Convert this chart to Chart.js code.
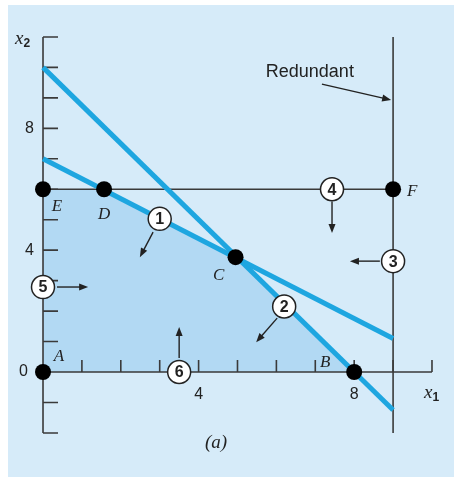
<!DOCTYPE html>
<html>
<head>
<meta charset="utf-8">
<title>Feasible region</title>
<script src="https://cdn.jsdelivr.net/npm/chart.js@4.4.0/dist/chart.umd.min.js"></script>
<style>
  html, body { margin: 0; padding: 0; background: #ffffff; }
  #panel { position: absolute; left: 8px; top: 5px; width: 446px; height: 472px; background: #d6ebf9; }
  canvas { display: block; }
</style>
</head>
<body>
<div id="panel"><canvas id="lpChart"></canvas></div>
<script>
// Corner points of the problem
const vertexNames = ['A', 'B', 'C', 'D', 'E', 'F'];
const vertexX = [0, 8, 4.95, 1.57, 0, 9];
const vertexY = [0, 0, 3.77, 6, 6, 6];

// Constraint lines (two end points each)
const line1X = [0, 9];
const line1Y = [7, 1.1];
const line2X = [0, 9];
const line2Y = [10, -1.25];
const line3X = [9, 9];
const line3Y = [-2, 11];
const line4X = [0, 9];
const line4Y = [6, 6];

// Circled constraint numbers and the side each one keeps
const constraintIds = ['1', '2', '3', '4', '5', '6'];
const constraintX = [3.0, 6.2, 9, 7.43, 0, 3.5];
const constraintY = [5.03, 2.15, 3.64, 6, 2.79, 0];
const arrowFromX = [2.83, 6.02, 8.66, 7.43, 0.36, 3.5];
const arrowFromY = [4.59, 1.77, 3.64, 5.6, 2.79, 0.46];
const arrowToX = [2.49, 5.48, 7.89, 7.43, 1.16, 3.5];
const arrowToY = [3.77, 0.98, 3.64, 4.56, 2.79, 1.48];

// Axes
const xAxisRange = [0, 10];
const yAxisRange = [-2, 11];
const xTickLabels = [4, 8];
const yTickLabels = [0, 4, 8];

const BLUE = '#1ea6e0';
const AXIS = '#3a3a3a';
const SERIF = '"Liberation Serif", "DejaVu Serif", serif';
const SANS = '"Liberation Sans", Arial, sans-serif';

const pts = (xs, ys) => xs.map((v, i) => ({ x: v, y: ys[i] }));
const byName = n => vertexNames.indexOf(n);

// Feasible region outline E-D-C-B, filled down to x2 = 0
const regionOrder = ['E', 'D', 'C', 'B'];
const regionPts = regionOrder.map(n => ({ x: vertexX[byName(n)], y: vertexY[byName(n)] }));

function arrow(ctx, x1, y1, x2, y2) {
    const a = Math.atan2(y2 - y1, x2 - x1);
    const head = 9, half = 3.5;
    ctx.beginPath();
    ctx.moveTo(x1, y1);
    ctx.lineTo(x2 - Math.cos(a) * head * 0.8, y2 - Math.sin(a) * head * 0.8);
    ctx.stroke();
    ctx.beginPath();
    ctx.moveTo(x2, y2);
    ctx.lineTo(x2 - Math.cos(a) * head + Math.sin(a) * half, y2 - Math.sin(a) * head - Math.cos(a) * half);
    ctx.lineTo(x2 - Math.cos(a) * head - Math.sin(a) * half, y2 - Math.sin(a) * head + Math.cos(a) * half);
    ctx.closePath();
    ctx.fill();
}

function axisName(ctx, sub, px, py) {
    ctx.font = 'italic 19px ' + SERIF;
    ctx.textAlign = 'left';
    ctx.textBaseline = 'middle';
    ctx.fillText('x', px, py);
    const w = ctx.measureText('x').width;
    ctx.font = 'bold 12px ' + SANS;
    ctx.fillText(sub, px + w, py + 5);
}

const sketchPlugin = {
    id: 'sketch',
    // axes go on top of the shaded region but under the lines and points
    afterDatasetDraw(chart, args) {
        if (chart.data.datasets[args.index].label !== 'region') return;
        const { ctx, scales: { x, y } } = chart;
        const x0 = x.getPixelForValue(0);
        const y0 = y.getPixelForValue(0);
        ctx.save();
        ctx.strokeStyle = AXIS;
        ctx.lineWidth = 1.6;
        ctx.beginPath();
        ctx.moveTo(x0, y.getPixelForValue(yAxisRange[0]));
        ctx.lineTo(x0, y.getPixelForValue(yAxisRange[1]));
        for (let v = yAxisRange[0]; v <= yAxisRange[1]; v++) {
            const py = y.getPixelForValue(v);
            ctx.moveTo(x0, py);
            ctx.lineTo(x0 + 15, py);
        }
        ctx.moveTo(x0, y0);
        ctx.lineTo(x.getPixelForValue(xAxisRange[1]), y0);
        for (let v = xAxisRange[0] + 1; v <= xAxisRange[1]; v++) {
            const px = x.getPixelForValue(v);
            ctx.moveTo(px, y0);
            ctx.lineTo(px, y0 - 12);
        }
        ctx.stroke();
        ctx.restore();
    },
    afterDatasetsDraw(chart) {
        const { ctx, scales: { x, y } } = chart;
        const x0 = x.getPixelForValue(0);
        const y0 = y.getPixelForValue(0);
        ctx.save();
        ctx.fillStyle = '#222';

        // tick labels
        ctx.font = '16px ' + SANS;
        ctx.textBaseline = 'middle';
        ctx.textAlign = 'right';
        yTickLabels.forEach(v => {
            ctx.fillText(String(v), x0 - (v === 0 ? 15 : 9), y.getPixelForValue(v));
        });
        ctx.textAlign = 'center';
        xTickLabels.forEach(v => {
            ctx.fillText(String(v), x.getPixelForValue(v), y0 + 23);
        });

        axisName(ctx, '2', x0 - 28, y.getPixelForValue(yAxisRange[1]) + 2);
        axisName(ctx, '1', x.getPixelForValue(xAxisRange[1]) - 8, y0 + 21);

        // corner point letters
        const offs = { A: [16, -15], B: [-29, -9], C: [-17, 18], D: [0, 25], E: [14, 17], F: [19, 2] };
        ctx.font = 'italic 17px ' + SERIF;
        ctx.textAlign = 'center';
        vertexNames.forEach((n, i) => {
            const o = offs[n];
            ctx.fillText(n, x.getPixelForValue(vertexX[i]) + o[0], y.getPixelForValue(vertexY[i]) + o[1]);
        });

        // constraint arrows and numbers
        ctx.strokeStyle = '#222';
        ctx.lineWidth = 1.4;
        constraintIds.forEach((id, i) => {
            arrow(ctx, x.getPixelForValue(arrowFromX[i]), y.getPixelForValue(arrowFromY[i]),
                x.getPixelForValue(arrowToX[i]), y.getPixelForValue(arrowToY[i]));
        });
        ctx.font = 'bold 16px ' + SANS;
        constraintIds.forEach((id, i) => {
            ctx.fillText(id, x.getPixelForValue(constraintX[i]), y.getPixelForValue(constraintY[i]) + 1);
        });

        // redundant constraint note
        ctx.font = '18px ' + SANS;
        ctx.fillText('Redundant', x.getPixelForValue(6.86), y.getPixelForValue(9.85));
        arrow(ctx, x.getPixelForValue(7.17), y.getPixelForValue(9.45), x.getPixelForValue(8.95), y.getPixelForValue(8.93));

        ctx.font = 'italic 19px ' + SERIF;
        ctx.fillText('(a)', x.getPixelForValue(4.45), y.getPixelForValue(-2.33));
        ctx.restore();
    }
};

const lineSet = (label, data, color, width, order) => ({
    label, data, order,
    showLine: true,
    borderColor: color,
    borderWidth: width,
    pointRadius: 0,
    fill: false
});

new Chart(document.getElementById('lpChart'), {
    type: 'scatter',
    data: {
        datasets: [
            {
                label: 'region',
                data: regionPts,
                order: 9,
                showLine: true,
                borderWidth: 0,
                borderColor: 'rgba(0,0,0,0)',
                backgroundColor: '#b2d9f3',
                pointRadius: 0,
                fill: 'origin'
            },
            lineSet('c4', pts(line4X, line4Y), AXIS, 1.6, 8),
            lineSet('c3', pts(line3X, line3Y), AXIS, 1.6, 8),
            lineSet('c1', pts(line1X, line1Y), BLUE, 5, 6),
            lineSet('c2', pts(line2X, line2Y), BLUE, 5, 6),
            {
                label: 'vertices',
                data: pts(vertexX, vertexY),
                order: 3,
                pointRadius: 8,
                pointBackgroundColor: '#000',
                pointBorderWidth: 0
            },
            {
                label: 'constraints',
                data: pts(constraintX, constraintY),
                order: 1,
                pointRadius: 11.5,
                pointBackgroundColor: '#fff',
                pointBorderColor: '#222',
                pointBorderWidth: 1.5
            }
        ]
    },
    options: {
        responsive: true,
        maintainAspectRatio: false,
        animation: false,
        events: [],
        layout: { padding: 0, autoPadding: false },
        plugins: { legend: { display: false }, tooltip: { enabled: false } },
        scales: {
            x: { type: 'linear', display: false, min: -0.9, max: 10.566 },
            y: { type: 'linear', display: false, min: -3.447, max: 12.049 }
        }
    },
    plugins: [sketchPlugin]
});
</script>
</body>
</html>
